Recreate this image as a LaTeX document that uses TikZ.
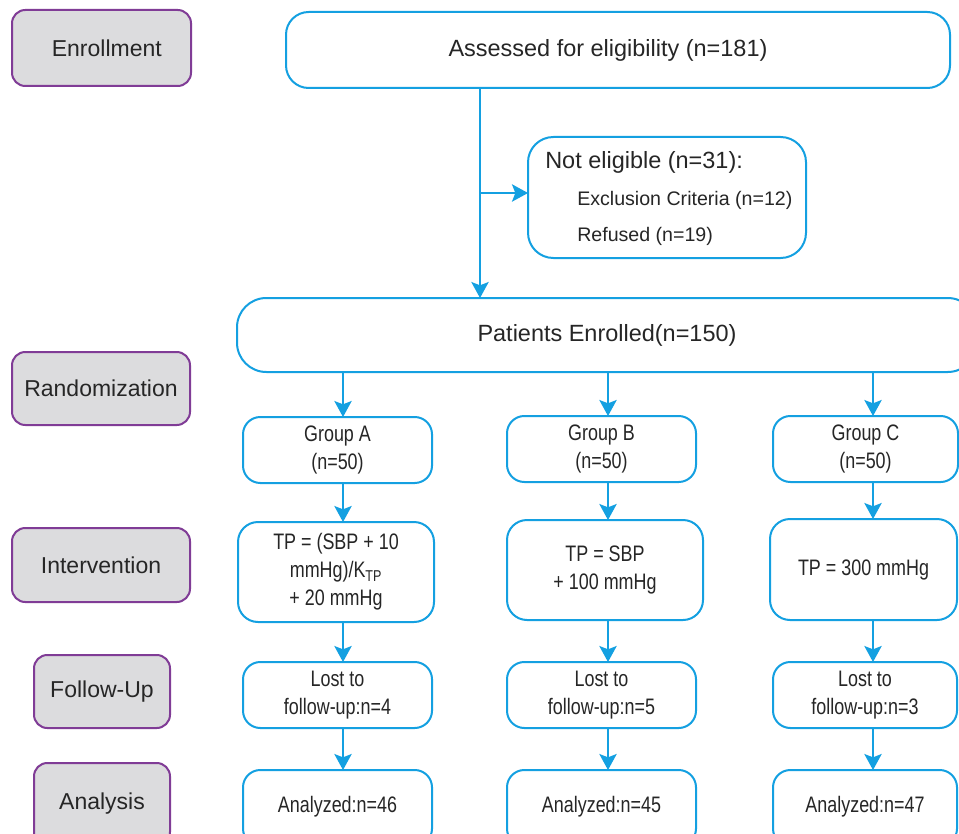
\documentclass[tikz,border=0pt]{standalone}
\usepackage{fontspec}
\setmainfont{Liberation Sans}
\newfontfamily\cndfont[FakeStretch=0.8]{Liberation Sans}
\usetikzlibrary{arrows.meta}
\definecolor{flowblue}{RGB}{20,160,225}
\definecolor{labpurple}{RGB}{128,60,150}
\definecolor{labgray}{RGB}{220,220,222}
\tikzset{
  wh/.style 2 args={minimum width=#1*0.75pt, minimum height=#2*0.75pt},
  labelbox/.style={draw=labpurple, line width=1.5pt, fill=labgray, rounded corners=10pt,
    inner sep=0pt, outer sep=0pt, font=\fontsize{17.25pt}{20pt}\selectfont, text=black!85},
  bigbox/.style={draw=flowblue, line width=1.5pt, rounded corners=17pt, fill=white,
    inner sep=0pt, outer sep=0pt, font=\fontsize{17.6pt}{21pt}\selectfont, text=black!85},
  colbox/.style={draw=flowblue, line width=1.5pt, rounded corners=13pt, fill=white,
    inner sep=0pt, outer sep=0pt, align=center,
    font=\cndfont\fontsize{16.8pt}{21pt}\selectfont, text=black!85},
  subtext/.style={anchor=base west, inner sep=0pt, text=black!85},
  arr/.style={draw=flowblue, line width=1.5pt,
    -{Stealth[length=12pt,width=13pt,inset=2.5pt]}},
  plain/.style={draw=flowblue, line width=1.5pt}
}
\begin{document}
\begin{tikzpicture}[x=0.75pt,y=-0.75pt]
\useasboundingbox (0,0) rectangle (959,834);
\fill[white] (0,0) rectangle (959,834);
\clip (0,0) rectangle (959,834);

% left stage labels
\node[labelbox, wh={179}{76}] (lE) at (101.5,48) {\hspace*{8pt}Enrollment};
\node[labelbox, wh={178}{73}] (lR) at (101,388.5) {Randomization};
\node[labelbox, wh={178}{74}] (lI) at (101,565) {Intervention};
\node[labelbox, wh={136}{73}] (lF) at (102,691.5) {Follow-Up};
\node[labelbox, wh={136}{82}] (lA) at (102,804) {\raisebox{3pt}{Analysis}};

% top part
\node[bigbox, wh={664}{76}] (assess) at (618,50) {Assessed for eligibility (n=181)\hspace*{15pt}};
\node[bigbox, wh={278}{121}, rounded corners=19pt] (noteli) at (667,197.5) {};
\node[subtext, font=\fontsize{17.6pt}{21pt}\selectfont] (ne1) at (545,169) {Not eligible (n=31):};
\node[subtext, font=\fontsize{14.7pt}{18pt}\selectfont] (ne2) at (577,206) {Exclusion Criteria (n=12)};
\node[subtext, font=\fontsize{14.7pt}{18pt}\selectfont] (ne3) at (577,242) {Refused (n=19)};
\node[bigbox, wh={740}{74}, rounded corners=22pt] (enrolled) at (607,335) {Patients Enrolled(n=150)};

% column x positions for arrows
\coordinate (br) at (480,193);
\coordinate (cA) at (343,0);
\coordinate (cB) at (608,0);
\coordinate (cC) at (873,0);

% groups
\node[colbox, wh={189}{66}] (gA) at (337.5,450) {Group A\\(n=50)};
\node[colbox, wh={189}{66}] (gB) at (601.5,449) {Group B\\(n=50)};
\node[colbox, wh={185}{66}] (gC) at (865.5,449) {Group C\\(n=50)};

% interventions
\node[colbox, wh={196}{100}, rounded corners=15pt] (iA) at (336,572) {TP = (SBP + 10\\mmHg)/K\textsubscript{TP}\\+ 20 mmHg};
\node[colbox, wh={196}{100}, rounded corners=15pt] (iB) at (605,570) {TP = SBP\\+ 100 mmHg};
\node[colbox, wh={187}{101}, rounded corners=15pt] (iC) at (863.5,569.5) {TP = 300 mmHg};

% lost to follow-up
\node[colbox, wh={189}{66}] (fA) at (337.5,695) {Lost to\\follow-up:n=4};
\node[colbox, wh={189}{66}] (fB) at (601.5,695) {Lost to\\follow-up:n=5};
\node[colbox, wh={184}{66}] (fC) at (865,695) {Lost to\\follow-up:n=3};

% analyzed
\node[colbox, wh={189}{76}] (aA) at (337.5,808) {\raisebox{5pt}{Analyzed:n=46}};
\node[colbox, wh={189}{76}] (aB) at (601.5,808) {\raisebox{5pt}{Analyzed:n=45}};
\node[colbox, wh={184}{76}] (aC) at (865,808) {\raisebox{5pt}{Analyzed:n=47}};

% connectors
\draw[arr] (assess.south -| br) -- (enrolled.north -| br);
\draw[arr] (br) -- (br -| noteli.west);

\draw[arr] (enrolled.south -| cA) -- (gA.north -| cA);
\draw[arr] (enrolled.south -| cB) -- (gB.north -| cB);
\draw[arr] (enrolled.south -| cC) -- (gC.north -| cC);

\draw[arr] (gA.south -| cA) -- (iA.north -| cA);
\draw[arr] (gB.south -| cB) -- (iB.north -| cB);
\draw[arr] (gC.south -| cC) -- (iC.north -| cC);

\draw[arr] (iA.south -| cA) -- (fA.north -| cA);
\draw[arr] (iB.south -| cB) -- (fB.north -| cB);
\draw[arr] (iC.south -| cC) -- (fC.north -| cC);

\draw[arr] (fA.south -| cA) -- (aA.north -| cA);
\draw[arr] (fB.south -| cB) -- (aB.north -| cB);
\draw[arr] (fC.south -| cC) -- (aC.north -| cC);
\end{tikzpicture}
\end{document}
